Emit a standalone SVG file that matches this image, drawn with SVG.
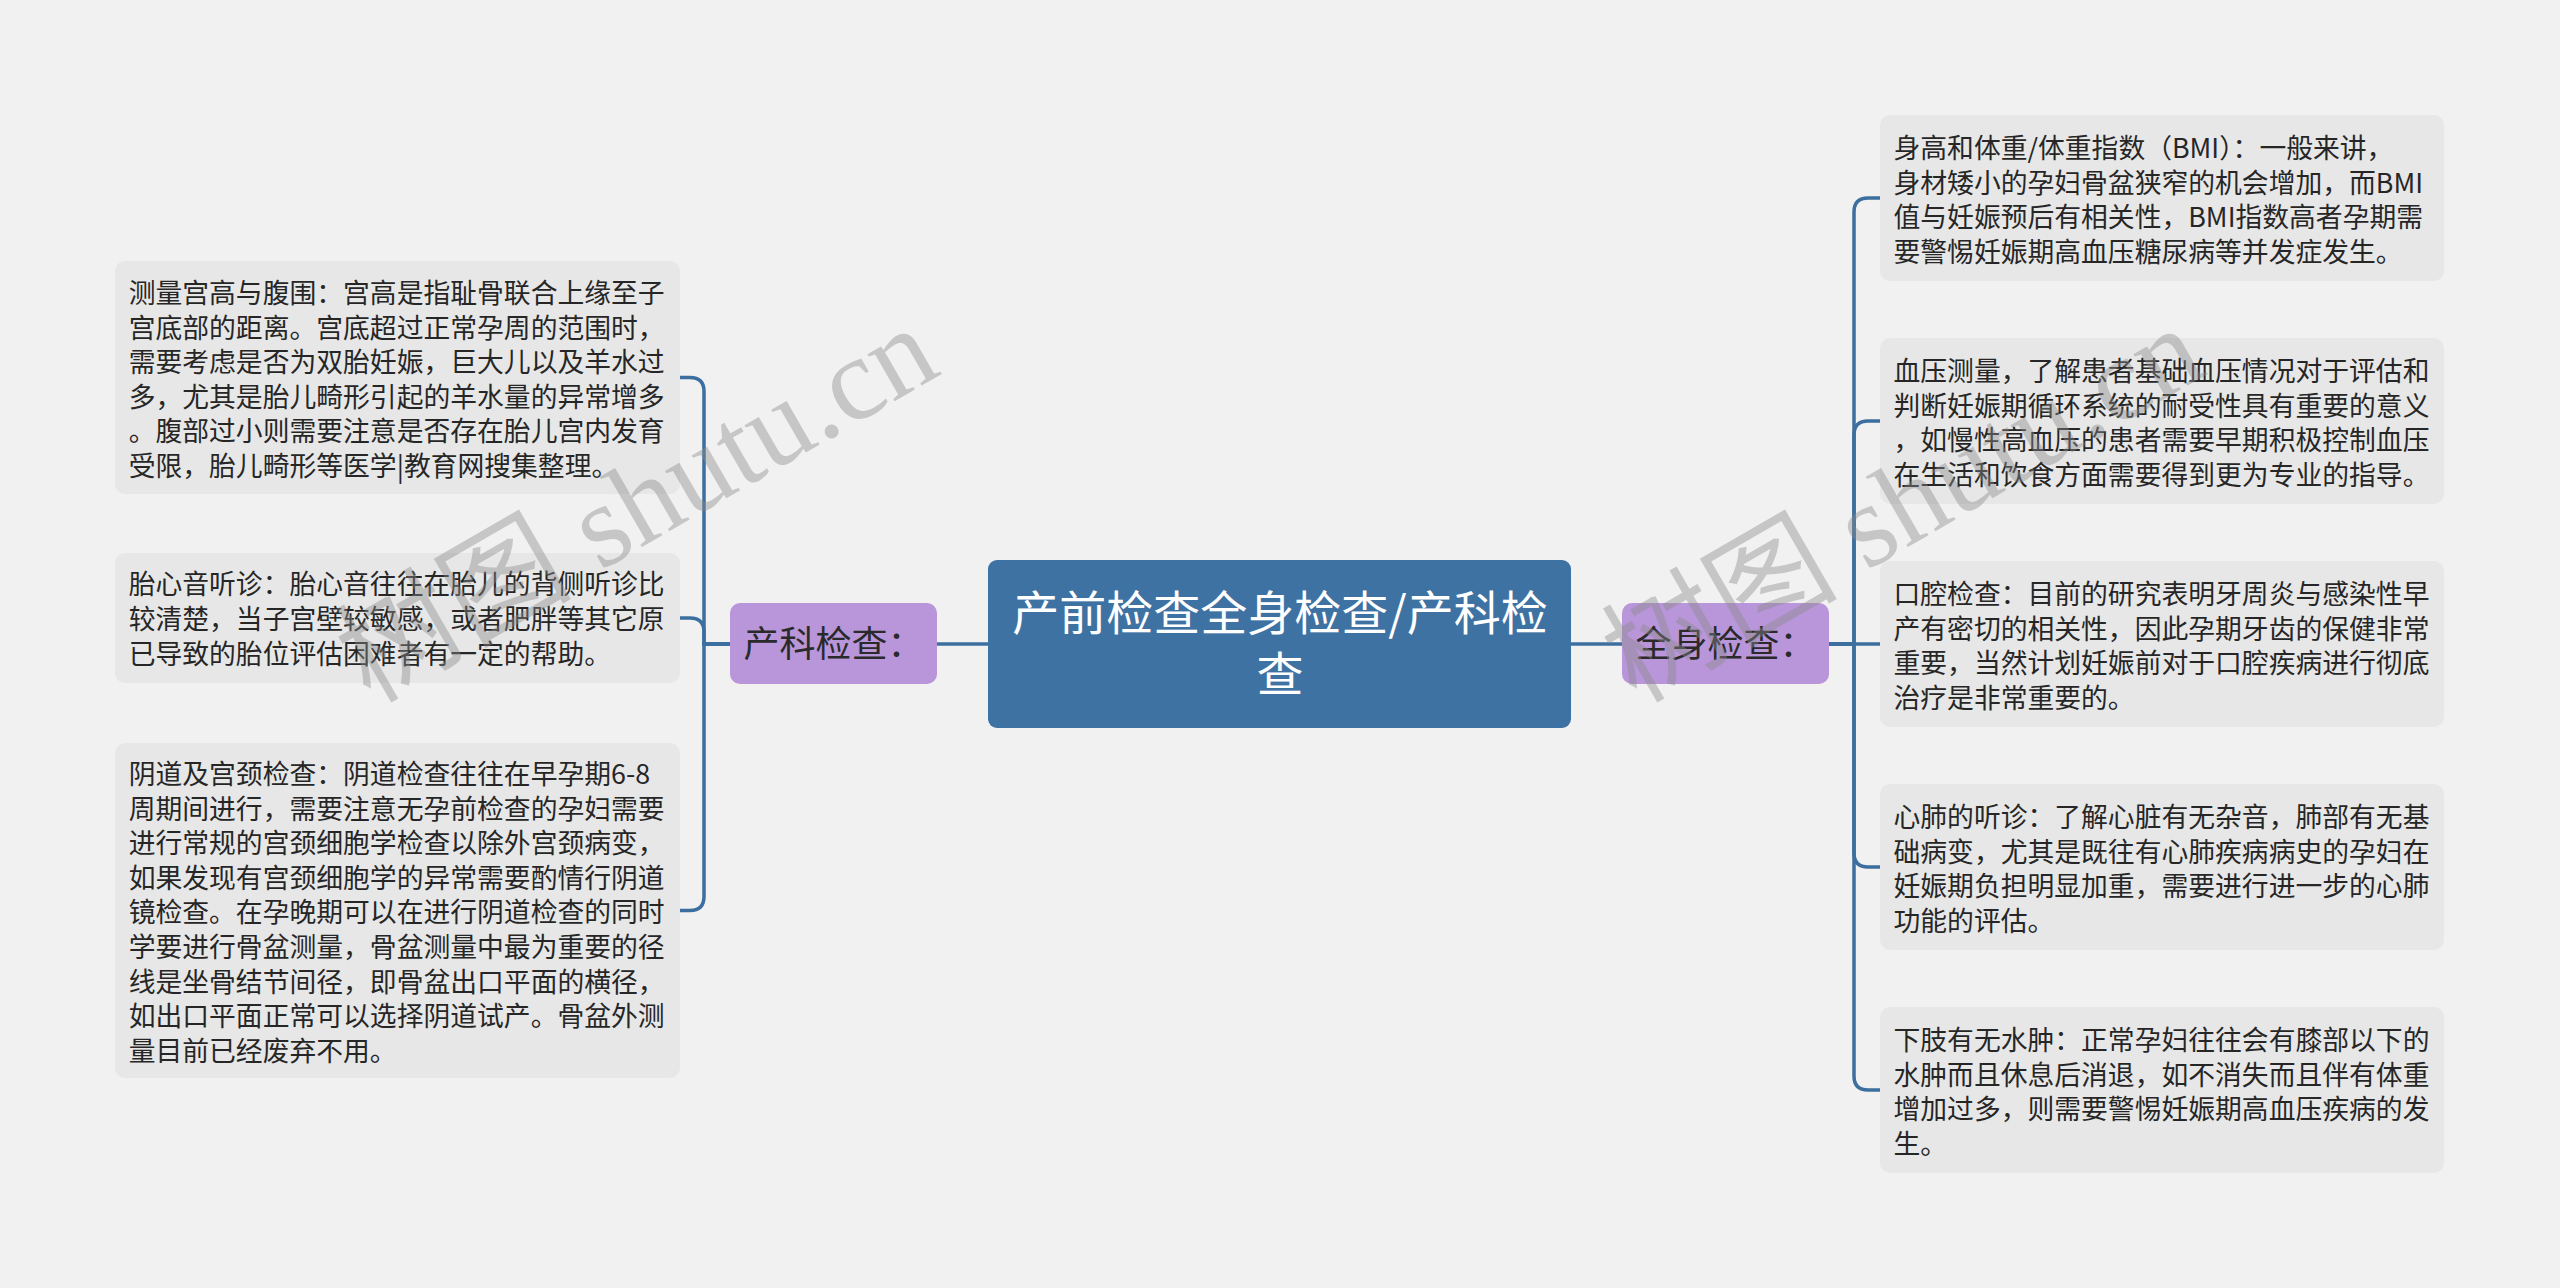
<svg xmlns="http://www.w3.org/2000/svg" width="2560" height="1288" viewBox="0 0 2560 1288">
<style>
.leaf{fill:#e7e7e7}
.lt{font-family:"Noto Sans CJK SC","Liberation Sans",sans-serif;font-size:26.8px;fill:#262626}
.sub{fill:#b996d9}
.st{font-family:"Noto Sans CJK SC","Liberation Sans",sans-serif;font-size:36px;fill:#2a2a2a;text-anchor:middle}
.rt{font-family:"Noto Sans CJK SC","Liberation Sans",sans-serif;font-size:47px;fill:#ffffff;text-anchor:middle}
.cn{fill:none;stroke:#3c6f9f;stroke-width:3.5}
.wm{font-family:"Liberation Serif","Noto Sans CJK SC",serif;font-size:118px;fill:#8a8a8a;fill-opacity:0.42}
</style>
<rect width="2560" height="1288" fill="#f1f1f1"/>
<g id="connectors">
<path class="cn" d="M988,644 H937"/>
<path class="cn" d="M1571,644 H1622"/>
<path class="cn" d="M730,644 H704 V391.5 Q704,377.5 690,377.5 H680"/>
<path class="cn" d="M730,644 H704 V632 Q704,618 690,618 H680"/>
<path class="cn" d="M730,644 H704 V896.5 Q704,910.5 690,910.5 H680"/>
<path class="cn" d="M1829,644 H1854 V212 Q1854,198 1868,198 H1880"/>
<path class="cn" d="M1829,644 H1854 V435 Q1854,421 1868,421 H1880"/>
<path class="cn" d="M1829,644 H1880"/>
<path class="cn" d="M1829,644 H1854 V853 Q1854,867 1868,867 H1880"/>
<path class="cn" d="M1829,644 H1854 V1076 Q1854,1090 1868,1090 H1880"/>
</g>
<g id="root">
<rect x="988" y="560" width="583" height="168" rx="9" fill="#3e72a3"/>
<text class="rt"><tspan x="1280" y="630">产前检查全身检查/产科检</tspan><tspan x="1280" y="691">查</tspan></text>
</g>
<g id="node-chanke">
<rect class="sub" x="730" y="603" width="207" height="81" rx="10"/>
<text class="st" x="833.5" y="657">产科检查：</text>
</g>
<g id="node-quanshen">
<rect class="sub" x="1622" y="603" width="207" height="81" rx="10"/>
<text class="st" x="1725.5" y="657">全身检查：</text>
</g>
<g id="leaf-l1">
<rect class="leaf" x="115" y="261" width="565" height="233" rx="10"/>
<text class="lt"><tspan x="128.7" y="303">测量宫高与腹围：宫高是指耻骨联合上缘至子</tspan><tspan x="128.7" y="337.6">宫底部的距离。宫底超过正常孕周的范围时，</tspan><tspan x="128.7" y="372.2">需要考虑是否为双胎妊娠，巨大儿以及羊水过</tspan><tspan x="128.7" y="406.8">多，尤其是胎儿畸形引起的羊水量的异常增多</tspan><tspan x="128.7" y="441.4">。腹部过小则需要注意是否存在胎儿宫内发育</tspan><tspan x="128.7" y="476">受限，胎儿畸形等医学|教育网搜集整理。</tspan></text>
</g>
<g id="leaf-l2">
<rect class="leaf" x="115" y="553" width="565" height="130" rx="10"/>
<text class="lt"><tspan x="128.7" y="594.4">胎心音听诊：胎心音往往在胎儿的背侧听诊比</tspan><tspan x="128.7" y="629">较清楚，当子宫壁较敏感，或者肥胖等其它原</tspan><tspan x="128.7" y="663.6">已导致的胎位评估困难者有一定的帮助。</tspan></text>
</g>
<g id="leaf-l3">
<rect class="leaf" x="115" y="743" width="565" height="335" rx="10"/>
<text class="lt"><tspan x="128.7" y="784">阴道及宫颈检查：阴道检查往往在早孕期6-8</tspan><tspan x="128.7" y="818.6">周期间进行，需要注意无孕前检查的孕妇需要</tspan><tspan x="128.7" y="853.2">进行常规的宫颈细胞学检查以除外宫颈病变，</tspan><tspan x="128.7" y="887.8">如果发现有宫颈细胞学的异常需要酌情行阴道</tspan><tspan x="128.7" y="922.4">镜检查。在孕晚期可以在进行阴道检查的同时</tspan><tspan x="128.7" y="957">学要进行骨盆测量，骨盆测量中最为重要的径</tspan><tspan x="128.7" y="991.6">线是坐骨结节间径，即骨盆出口平面的横径，</tspan><tspan x="128.7" y="1026.2">如出口平面正常可以选择阴道试产。骨盆外测</tspan><tspan x="128.7" y="1060.8">量目前已经废弃不用。</tspan></text>
</g>
<g id="leaf-r1">
<rect class="leaf" x="1880" y="115" width="564" height="166" rx="10"/>
<text class="lt"><tspan x="1893.5" y="158">身高和体重/体重指数（BMI）：一般来讲，</tspan><tspan x="1893.5" y="192.6">身材矮小的孕妇骨盆狭窄的机会增加，而BMI</tspan><tspan x="1893.5" y="227.2">值与妊娠预后有相关性，BMI指数高者孕期需</tspan><tspan x="1893.5" y="261.8">要警惕妊娠期高血压糖尿病等并发症发生。</tspan></text>
</g>
<g id="leaf-r2">
<rect class="leaf" x="1880" y="338" width="564" height="166" rx="10"/>
<text class="lt"><tspan x="1893.5" y="381">血压测量，了解患者基础血压情况对于评估和</tspan><tspan x="1893.5" y="415.6">判断妊娠期循环系统的耐受性具有重要的意义</tspan><tspan x="1893.5" y="450.2">，如慢性高血压的患者需要早期积极控制血压</tspan><tspan x="1893.5" y="484.8">在生活和饮食方面需要得到更为专业的指导。</tspan></text>
</g>
<g id="leaf-r3">
<rect class="leaf" x="1880" y="561" width="564" height="166" rx="10"/>
<text class="lt"><tspan x="1893.5" y="604">口腔检查：目前的研究表明牙周炎与感染性早</tspan><tspan x="1893.5" y="638.6">产有密切的相关性，因此孕期牙齿的保健非常</tspan><tspan x="1893.5" y="673.2">重要，当然计划妊娠前对于口腔疾病进行彻底</tspan><tspan x="1893.5" y="707.8">治疗是非常重要的。</tspan></text>
</g>
<g id="leaf-r4">
<rect class="leaf" x="1880" y="784" width="564" height="166" rx="10"/>
<text class="lt"><tspan x="1893.5" y="827">心肺的听诊：了解心脏有无杂音，肺部有无基</tspan><tspan x="1893.5" y="861.6">础病变，尤其是既往有心肺疾病病史的孕妇在</tspan><tspan x="1893.5" y="896.2">妊娠期负担明显加重，需要进行进一步的心肺</tspan><tspan x="1893.5" y="930.8">功能的评估。</tspan></text>
</g>
<g id="leaf-r5">
<rect class="leaf" x="1880" y="1007" width="564" height="166" rx="10"/>
<text class="lt"><tspan x="1893.5" y="1050">下肢有无水肿：正常孕妇往往会有膝部以下的</tspan><tspan x="1893.5" y="1084.6">水肿而且休息后消退，如不消失而且伴有体重</tspan><tspan x="1893.5" y="1119.2">增加过多，则需要警惕妊娠期高血压疾病的发</tspan><tspan x="1893.5" y="1153.8">生。</tspan></text>
</g>
<g id="watermark">
<text class="wm" transform="translate(370,704) rotate(-30)">树图 shutu.cn</text>
<text class="wm" transform="translate(1636,704) rotate(-30)">树图 shutu.cn</text>
</g>
</svg>
